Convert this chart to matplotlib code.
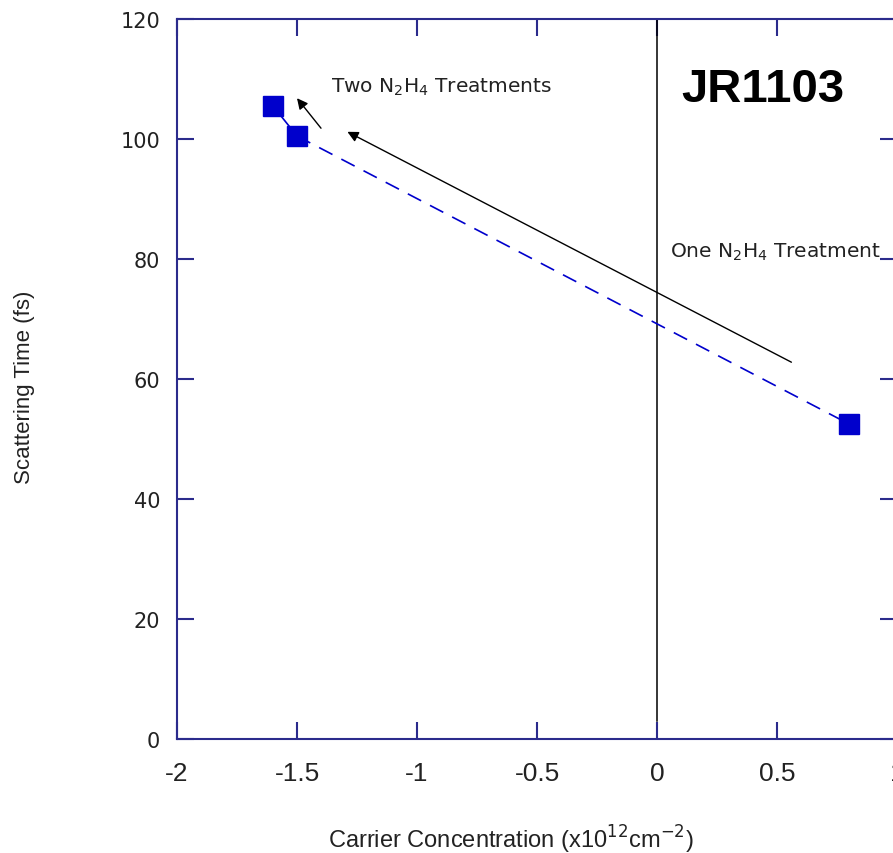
import matplotlib.pyplot as plt

# data
conc = [-1.6, -1.5, 0.8]
tau = [105.5, 100.5, 52.5]

vline_x = 0.0
vline_y = [3, 120]

big_arrow = [(0.56, 62.8), (-1.29, 101.2)]    # tail, head
small_arrow = [(-1.40, 101.8), (-1.50, 106.8)]

xticks = [-2, -1.5, -1, -0.5, 0, 0.5, 1]
xtick_labels = ['-2', '-1.5', '-1', '-0.5', '0', '0.5', '1']
yticks = [0, 20, 40, 60, 80, 100, 120]

navy = '#2b2b8c'
blue = '#0000cc'

fig = plt.figure(figsize=(8.93, 8.54), dpi=100)
ax = fig.add_axes([177 / 893, 1 - 740 / 854, 720 / 893, 720 / 854])

ax.plot(conc[:2], tau[:2], color=blue, lw=1.2, zorder=3)
ax.plot(conc[1:], tau[1:], color=blue, lw=1.2, dashes=(9, 6), zorder=3)
ax.plot(conc, tau, 's', color=blue, ms=14, zorder=4)

ax.plot([vline_x, vline_x], vline_y, color='black', lw=1.1, zorder=2)

for tail, head in (big_arrow, small_arrow):
    ax.annotate('', xy=head, xytext=tail,
                arrowprops=dict(arrowstyle='-|>', color='black', lw=1.0,
                                mutation_scale=16, shrinkA=0, shrinkB=0))

ax.text(-1.36, 108.8, 'Two N$_2$H$_4$ Treatments', fontsize=14.5, color='#222222',
        va='center', ha='left')
ax.text(0.055, 81.2, 'One N$_2$H$_4$ Treatment', fontsize=14.5, color='#222222',
        va='center', ha='left')
ax.text(0.1, 108.4, 'JR1103', fontsize=34, fontweight='bold',
        family='Liberation Sans', va='center', ha='left')

ax.set_xlim(-2, 1)
ax.set_ylim(0, 120)
ax.set_xticks(xticks)
ax.set_xticklabels(xtick_labels, family='Liberation Sans', fontsize=19,
                   color='#222222')
ax.set_yticks(yticks)
ax.set_yticklabels([str(v) for v in yticks], family='DejaVu Sans', fontsize=15,
                   color='#222222')

ax.tick_params(axis='both', direction='in', length=12, width=1.5, color=navy,
               top=True, right=True)
ax.tick_params(axis='x', pad=16)
ax.tick_params(axis='y', pad=12)
for sp in ax.spines.values():
    sp.set_color(navy)
    sp.set_linewidth(1.5)

ax.set_xlabel('Carrier Concentration (x10$^{12}$cm$^{-2}$)',
              family='Liberation Sans', fontsize=17, color='#222222')
ax.set_ylabel('Scattering Time (fs)', family='Liberation Sans',
              fontsize=16, color='#222222')
ax.xaxis.set_label_coords(0.464, -0.116)
ax.yaxis.set_label_coords(-0.197, 0.49)

fig.savefig('out.png', dpi=100)
